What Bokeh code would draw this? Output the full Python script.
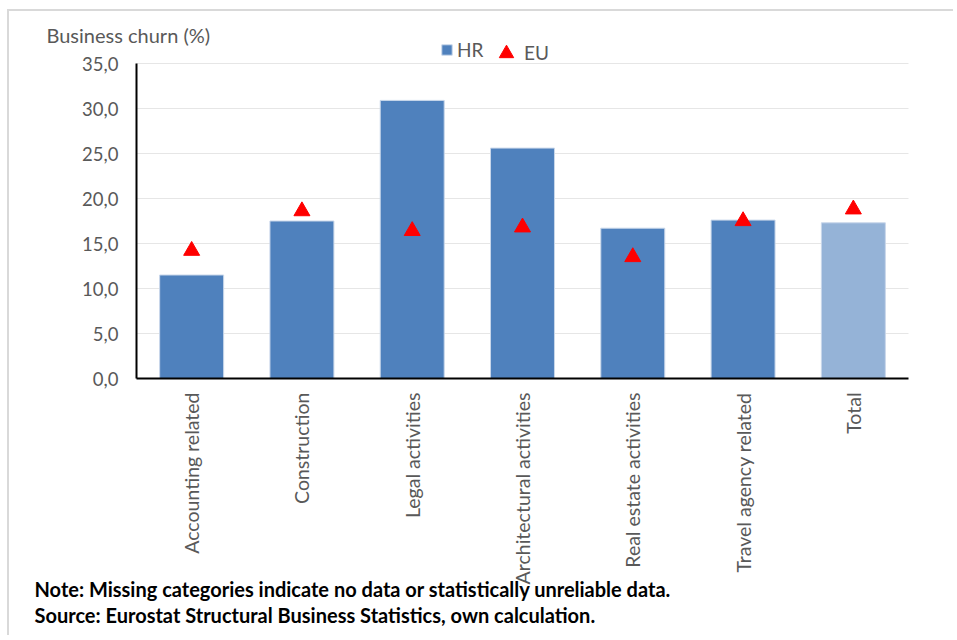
import math
from bokeh.plotting import figure
from bokeh.models import (Range1d, FixedTicker, Legend, LegendItem, Label,
                          ColumnDataSource)
from bokeh.embed import file_html
from bokeh.resources import INLINE

# ---- data ----
categories = ["Accounting related", "Construction", "Legal activities",
              "Architectural activities", "Real estate activities",
              "Travel agency related", "Total"]
hr_values = [11.5, 17.5, 30.9, 25.6, 16.7, 17.6, 17.3]
eu_values = [14.2, 18.6, 16.4, 16.8, 13.5, 17.5, 18.8]
y_ticks = [0, 5, 10, 15, 20, 25, 30, 35]
y_tick_labels = ["0,0", "5,0", "10,0", "15,0", "20,0", "25,0", "30,0", "35,0"]
series_names = ["HR", "EU"]
y_title = "Business churn (%)"
note_lines = ["Note: Missing categories indicate no data or statistically unreliable data.",
              "Source: Eurostat Structural Business Statistics, own calculation."]

# ---- styles / layout ----
BAR = "#4F81BD"
BAR_TOTAL = "#95B3D7"
RED = "#FF0000"
GREY_TXT = "#595959"
FONT = "Lato"

W, H = 946, 626                 # canvas size
ORG_X, ORG_Y = 9, 11            # canvas origin on the page (margin + border)
AX_LEFT, AX_RIGHT = 136, 908    # page x of category axis ends
AX_BOTTOM, AX_TOP = 378, 63     # page y of 0 and of 35
n = len(categories)
y_max = y_ticks[-1]
ppx = (AX_RIGHT - AX_LEFT) / n          # px per category
ppy = (AX_BOTTOM - AX_TOP) / y_max      # px per unit
x_start = -(AX_LEFT - ORG_X) / ppx
x_end = n + (ORG_X + W - AX_RIGHT) / ppx
y_start = -(ORG_Y + H - AX_BOTTOM) / ppy
y_end = y_max + (AX_TOP - ORG_Y) / ppy


def dx(page_x):
    return (page_x - AX_LEFT) / ppx


def dy(page_y):
    return (AX_BOTTOM - page_y) / ppy


x_pos = [i + 0.5 for i in range(n)]
bar_colors = [BAR_TOTAL if c == "Total" else BAR for c in categories]
src = ColumnDataSource(dict(x=x_pos, cat=categories, hr=hr_values, eu=eu_values,
                            color=bar_colors))

p = figure(x_range=Range1d(x_start, x_end), y_range=Range1d(y_start, y_end),
           width=W, height=H, output_backend="svg", toolbar_location=None,
           min_border=0,
           styles={"margin-left": "7px", "margin-top": "9px",
                   "border-top": "2px solid #D9D9D9",
                   "border-left": "2px solid #D9D9D9"})
p.min_border_left = 0
p.min_border_right = 0
p.min_border_top = 0
p.min_border_bottom = 0
p.outline_line_color = None
p.background_fill_color = "white"
p.border_fill_color = "white"

# grid lines (horizontal, only across the plotting area)
p.xgrid.grid_line_color = None
p.ygrid.grid_line_color = None
grid_src = ColumnDataSource(dict(y=y_ticks[1:]))
p.segment(x0=0, x1=n, y0="y", y1="y", line_color="#E6E6E6", line_width=1,
          source=grid_src)

bars = p.vbar(x="x", top="hr", width=0.58, fill_color="color", line_color="#C9D7EA",
              line_width=1, source=src)
tris = p.scatter(x="x", y="eu", marker="triangle", size=16, fill_color=RED,
                 line_color=RED, source=src)

# y axis
p.yaxis.fixed_location = 0
p.yaxis.bounds = (0, y_max)
p.yaxis.ticker = FixedTicker(ticks=y_ticks)
p.yaxis.major_label_overrides = {t: l for t, l in zip(y_ticks, y_tick_labels)}
p.yaxis.major_label_text_font = FONT
p.yaxis.major_label_text_font_size = "18.5px"
p.yaxis.major_label_text_color = GREY_TXT
p.yaxis.major_label_standoff = 18
p.yaxis.axis_line_color = "black"
p.yaxis.axis_line_width = 2
p.yaxis.major_tick_line_color = None
p.yaxis.minor_tick_line_color = None
p.yaxis.major_tick_out = 0
p.yaxis.major_tick_in = 0

# x axis (categories)
p.xaxis.fixed_location = 0
p.xaxis.bounds = (0, n)
p.xaxis.ticker = FixedTicker(ticks=x_pos)
p.xaxis.major_label_overrides = {x: c for x, c in zip(x_pos, categories)}
p.xaxis.major_label_orientation = math.pi / 2
p.xaxis.major_label_text_font = FONT
p.xaxis.major_label_text_font_size = "19.5px"
p.xaxis.major_label_text_color = GREY_TXT
p.xaxis.major_label_standoff = 14
p.xaxis.axis_line_color = "black"
p.xaxis.axis_line_width = 2
p.xaxis.major_tick_line_color = None
p.xaxis.minor_tick_line_color = None
p.xaxis.major_tick_out = 0
p.xaxis.major_tick_in = 0

# legends (two, so the square and the triangle get their own glyph sizes)
leg1 = Legend(items=[LegendItem(label=series_names[0], renderers=[bars], index=0)],
              location=(440 - ORG_X, ORG_Y + H - 60.5), orientation="horizontal",
              glyph_width=13, glyph_height=13, label_standoff=4,
              padding=0, margin=0, border_line_color=None, background_fill_alpha=0,
              label_text_font=FONT, label_text_font_size="19px",
              label_text_color=GREY_TXT)
leg2 = Legend(items=[LegendItem(label=series_names[1], renderers=[tris], index=0)],
              location=(488 - ORG_X, ORG_Y + H - 70.5), orientation="horizontal",
              glyph_width=36, glyph_height=36, label_standoff=0,
              padding=0, margin=0, border_line_color=None, background_fill_alpha=0,
              label_text_font=FONT, label_text_font_size="19px",
              label_text_color=GREY_TXT)
p.add_layout(leg1, "center")
p.add_layout(leg2, "center")

# y title
p.add_layout(Label(x=dx(46), y=dy(34.5), text=y_title,
                   text_font=FONT, text_font_size="20px", text_color=GREY_TXT,
                   text_baseline="middle"))

# notes
for i, (line, mid) in enumerate(zip(note_lines, [588.0, 614.0])):
    p.add_layout(Label(x=dx(34), y=dy(mid), text=line,
                       text_font=FONT, text_font_size="20px",
                       text_font_style="bold", text_color="black",
                       text_baseline="middle"))

open("out.html", "w").write(file_html(p, INLINE))
